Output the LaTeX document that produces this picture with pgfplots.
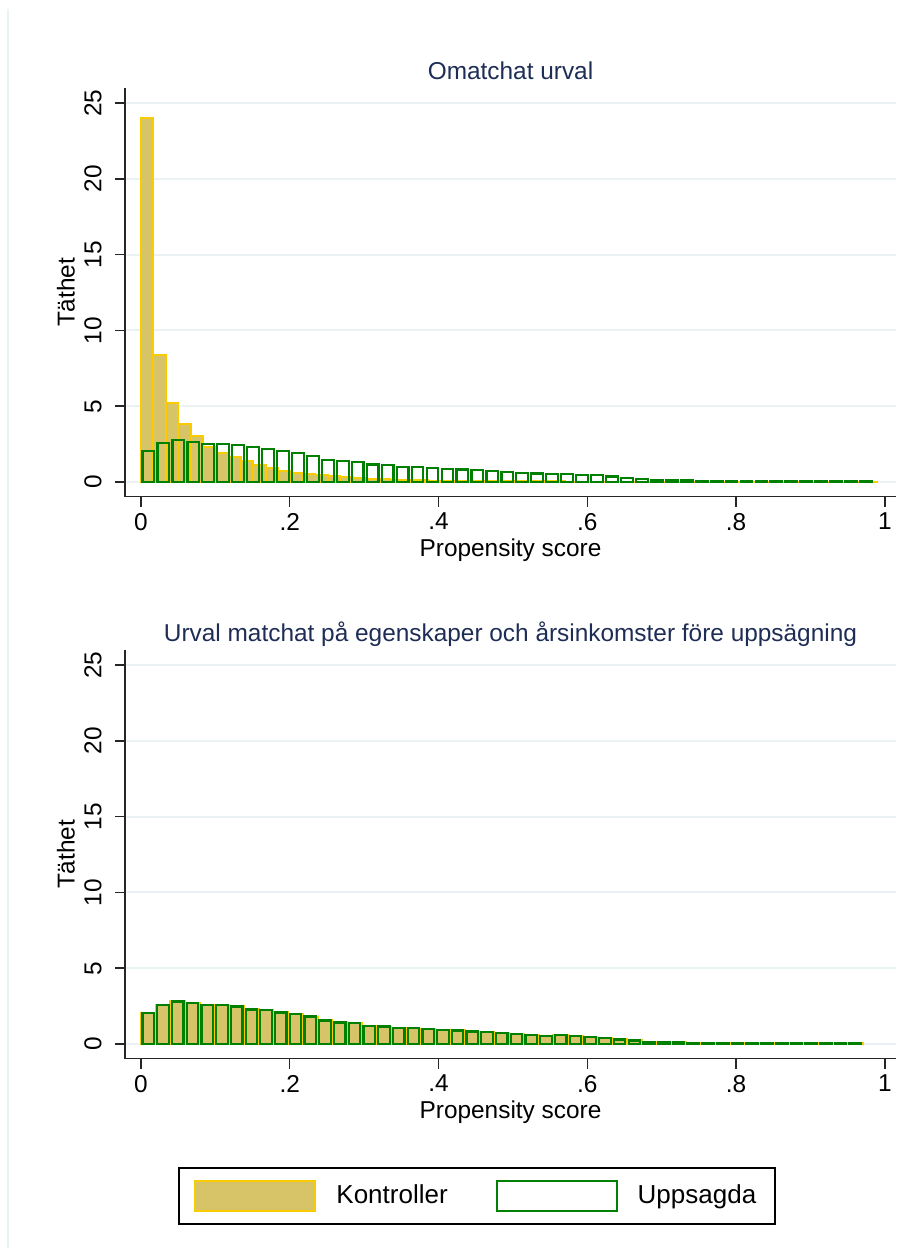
\documentclass[border=0pt]{standalone}
\usepackage{fontspec}
\setmainfont{Liberation Sans}
\usepackage{pgfplots}
\pgfplotsset{compat=1.18}
\definecolor{khaki}{RGB}{216,196,104}
\definecolor{goldc}{RGB}{250,204,0}
\definecolor{stgreen}{RGB}{0,128,0}
\definecolor{gridc}{RGB}{234,242,243}
\definecolor{titlec}{RGB}{30,45,85}
\newcommand{\fs}{\fontsize{12.2}{14}\selectfont}
\pgfplotsset{
 myaxis/.style={
  scale only axis, width=385.5pt, height=204.35pt,
  xmin=-0.0214, xmax=1.015, ymin=-0.97, ymax=26,
  axis x line*=bottom, axis y line*=left, axis line style={-, line width=0.75pt, black!85},
  xtick={0,0.2,0.4,0.6,0.8,1}, xticklabels={0,.2,.4,.6,.8,1},
  ytick={0,5,10,15,20,25}, yticklabels={0,5,10,15,20,25},
  /pgf/number format/assume math mode=true,
  ymajorgrids, grid style={gridc, line width=1pt},
  tick align=outside, major tick length=5pt, tick style={black!85, line width=0.75pt},
  ticklabel style={font=\fs},
  yticklabel style={rotate=90, anchor=south, inner sep=0pt, yshift=6.5pt},
  xticklabel style={anchor=north, inner sep=0pt, yshift=-3pt},
  every axis y label/.style={at={(axis description cs:-0.0765,0.5)}, rotate=90, anchor=center, font=\fs},
  every axis x label/.style={at={(axis description cs:0.5,-0.1304)}, anchor=center, font=\fs},
  title style={at={(axis description cs:0.5,1)}, anchor=base, yshift=-1.5pt, font=\fs, text=titlec},
  ylabel={Täthet}, xlabel={Propensity score},
 },
 ctrl/.style={ybar interval, fill=khaki, draw=goldc, line width=0.9pt},
 trt/.style={ybar interval, bar interval width=0.78, fill=none, draw=stgreen, line width=1.1pt},
}
\begin{document}
\begin{tikzpicture}
\useasboundingbox (0,0) rectangle (448pt,-626.5pt);
\draw[gridc, line width=1pt] (4pt,-4.5pt) -- (4pt,-624pt);
\begin{axis}[myaxis, at={(62.5pt,-248.35pt)}, anchor=south west, title={Omatchat urval}]
\addplot[ctrl] coordinates {
(0,24.0) (0.01677,8.38) (0.03354,5.23) (0.05031,3.85) (0.06708,3.04) (0.08385,2.33) (0.10062,1.93) (0.11739,1.65) (0.13416,1.39) (0.15093,1.12)
(0.16770,0.90) (0.18447,0.73) (0.20124,0.61) (0.21801,0.54) (0.23478,0.48) (0.25155,0.41) (0.26832,0.33) (0.28509,0.27) (0.30186,0.22) (0.31863,0.19)
(0.33540,0.15) (0.35217,0.13) (0.36894,0.11) (0.38571,0.10) (0.40248,0.09) (0.41925,0.08) (0.43602,0.07) (0.45279,0.07) (0.46956,0.06) (0.48633,0.06)
(0.50310,0.05) (0.51987,0.05) (0.53664,0.05) (0.55341,0.05) (0.57018,0.04) (0.58695,0.04) (0.60372,0.04) (0.62049,0.04) (0.63726,0.04) (0.65403,0.04)
(0.67080,0.03) (0.68757,0.03) (0.70434,0.03) (0.72111,0.03) (0.73788,0.03) (0.75465,0.03) (0.77142,0.03) (0.78819,0.03) (0.80496,0.03) (0.82173,0.03)
(0.83850,0.03) (0.85527,0.03) (0.87204,0.03) (0.88881,0.03) (0.90558,0.03) (0.92235,0.03) (0.93912,0.03) (0.95589,0.03) (0.97266,0.03) (0.98943,0.03)
};
\addplot[trt] coordinates {
(0,2.05) (0.0201,2.57) (0.0402,2.77) (0.0603,2.66) (0.0804,2.53) (0.1005,2.53) (0.1206,2.44) (0.1407,2.29) (0.1608,2.20) (0.1809,2.05)
(0.2010,1.91) (0.2211,1.74) (0.2412,1.47) (0.2613,1.39) (0.2814,1.32) (0.3015,1.16) (0.3216,1.10) (0.3417,1.01) (0.3618,1.00) (0.3819,0.92)
(0.4020,0.86) (0.4221,0.83) (0.4422,0.78) (0.4623,0.72) (0.4824,0.66) (0.5025,0.57) (0.5226,0.56) (0.5427,0.55) (0.5628,0.51) (0.5829,0.46)
(0.6030,0.46) (0.6231,0.36) (0.6432,0.27) (0.6633,0.19) (0.6834,0.15) (0.7035,0.15) (0.7236,0.11) (0.7437,0.09) (0.7638,0.08) (0.7839,0.08)
(0.8040,0.07) (0.8241,0.07) (0.8442,0.07) (0.8643,0.06) (0.8844,0.06) (0.9045,0.06) (0.9246,0.05) (0.9447,0.05) (0.9648,0.05) (0.9849,0.05)
};
\end{axis}
\begin{axis}[myaxis, at={(62.5pt,-529.35pt)}, anchor=south west,
  title={Urval matchat på egenskaper och årsinkomster före uppsägning},
  legend style={at={(axis description cs:0.457,-0.336)}, anchor=center, legend columns=2,
    draw=black, line width=1pt, font=\fontsize{13}{15.5}\selectfont, inner xsep=7.5pt, inner ysep=6pt,
    /tikz/every odd column/.append style={column sep=8pt},
    /tikz/every even column/.append style={column sep=22pt}, cells={anchor=west}},
  ]
\addplot[ctrl, legend image code/.code={\draw[fill=khaki, draw=goldc, line width=1pt] (0pt,-7.6pt) rectangle (60pt,7.6pt);}] coordinates {
(0,2.06) (0.0198,2.60) (0.0396,2.84) (0.0594,2.70) (0.0792,2.58) (0.0990,2.55) (0.1188,2.49) (0.1386,2.30) (0.1584,2.25) (0.1782,2.10)
(0.1980,2.00) (0.2178,1.80) (0.2376,1.56) (0.2574,1.44) (0.2772,1.40) (0.2970,1.20) (0.3168,1.16) (0.3366,1.05) (0.3564,1.03) (0.3762,0.99)
(0.3960,0.92) (0.4158,0.90) (0.4356,0.83) (0.4554,0.79) (0.4752,0.75) (0.4950,0.66) (0.5148,0.59) (0.5346,0.52) (0.5544,0.61) (0.5742,0.54)
(0.5940,0.46) (0.6138,0.43) (0.6336,0.31) (0.6534,0.24) (0.6732,0.16) (0.6930,0.14) (0.7128,0.13) (0.7326,0.07) (0.7524,0.08) (0.7722,0.08)
(0.7920,0.08) (0.8118,0.08) (0.8316,0.07) (0.8514,0.07) (0.8712,0.07) (0.8910,0.06) (0.9108,0.06) (0.9306,0.06) (0.9504,0.06) (0.9702,0.06)
};
\addlegendentry{Kontroller}
\addplot[trt, legend image code/.code={\draw[fill=white, draw=stgreen, line width=1pt] (0pt,-7.6pt) rectangle (60pt,7.6pt);}] coordinates {
(0,2.03) (0.0198,2.58) (0.0396,2.80) (0.0594,2.69) (0.0792,2.56) (0.0990,2.56) (0.1188,2.47) (0.1386,2.28) (0.1584,2.23) (0.1782,2.08)
(0.1980,1.99) (0.2178,1.81) (0.2376,1.55) (0.2574,1.42) (0.2772,1.38) (0.2970,1.19) (0.3168,1.15) (0.3366,1.04) (0.3564,1.04) (0.3762,0.98)
(0.3960,0.91) (0.4158,0.89) (0.4356,0.82) (0.4554,0.78) (0.4752,0.74) (0.4950,0.66) (0.5148,0.58) (0.5346,0.51) (0.5544,0.60) (0.5742,0.53)
(0.5940,0.45) (0.6138,0.42) (0.6336,0.30) (0.6534,0.23) (0.6732,0.15) (0.6930,0.13) (0.7128,0.13) (0.7326,0.06) (0.7524,0.08) (0.7722,0.08)
(0.7920,0.08) (0.8118,0.08) (0.8316,0.07) (0.8514,0.07) (0.8712,0.07) (0.8910,0.06) (0.9108,0.06) (0.9306,0.06) (0.9504,0.06) (0.9702,0.06)
};
\addlegendentry{Uppsagda}
\end{axis}
\end{tikzpicture}
\end{document}
